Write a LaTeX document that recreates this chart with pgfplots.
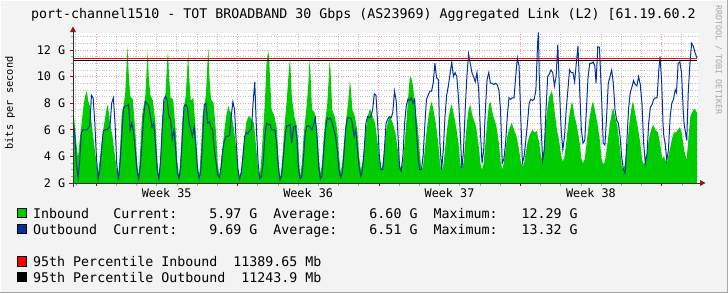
\documentclass[border=0pt]{standalone}
\usepackage{pgfplots}
\pgfplotsset{compat=1.18}
\usepackage{pgfplotstable}
\usepackage{fontspec}
\setmainfont{DejaVu Sans Mono}
\newfontfamily\mono{DejaVu Sans Mono}
\definecolor{bg}{HTML}{F3F3F3}
\definecolor{ingreen}{HTML}{00CC00}
\definecolor{outblue}{HTML}{0033A0}
\definecolor{arrowred}{HTML}{8B1A1A}
\definecolor{gridred}{HTML}{EFA0A0}
\definecolor{gridgray}{HTML}{C4C4C4}

% Inbound: d = day index, h = hour within day, v = Gbit/s
\pgfplotstableread[row sep=\\]{
d h v \\
-1 18 8.0 \\ -1 20 6.5 \\ -1 22 5.0 \\
0 0 3.9 \\ 0 2 5.2 \\ 0 4 6.3 \\ 0 6 7.5 \\ 0 8 8.4 \\ 0 10 8.9 \\ 0 11 8.7 \\ 0 12 8.2 \\ 0 14 7.8 \\ 0 17 6.0 \\ 0 20 4.5 \\ 0 22 3.4 \\
1 0 2.8 \\ 1 2 3.8 \\ 1 4 5.0 \\ 1 6 6.0 \\ 1 8 6.8 \\ 1 10 7.6 \\ 1 11 7.9 \\ 1 12 7.6 \\ 1 14 6.5 \\ 1 17 5.5 \\ 1 20 4.0 \\ 1 22 3.0 \\
2 0 2.5 \\ 2 2 4.6 \\ 2 4 7.2 \\ 2 6 7.8 \\ 2 8 8.6 \\ 2 10 11.2 \\ 2 11 12.25 \\ 2 12 10.5 \\ 2 14 8.5 \\ 2 17 8.3 \\ 2 20 6.0 \\ 2 22 3.8 \\
3 0 2.5 \\ 3 2 4.5 \\ 3 4 7.0 \\ 3 6 7.8 \\ 3 8 8.5 \\ 3 10 11.0 \\ 3 11 11.95 \\ 3 12 10.0 \\ 3 14 8.6 \\ 3 17 8.2 \\ 3 20 6.5 \\ 3 22 4.0 \\
4 0 2.5 \\ 4 2 4.0 \\ 4 4 6.8 \\ 4 6 7.9 \\ 4 8 8.8 \\ 4 10 11.2 \\ 4 11 11.9 \\ 4 12 10.2 \\ 4 14 8.4 \\ 4 17 8.3 \\ 4 20 6.0 \\ 4 22 3.6 \\
5 0 2.5 \\ 5 2 4.2 \\ 5 4 6.8 \\ 5 6 7.8 \\ 5 8 8.5 \\ 5 10 10.8 \\ 5 11 11.8 \\ 5 12 10.0 \\ 5 14 8.2 \\ 5 17 8.4 \\ 5 20 5.8 \\ 5 22 3.5 \\
6 0 2.5 \\ 6 2 4.4 \\ 6 4 7.0 \\ 6 6 7.8 \\ 6 8 8.6 \\ 6 10 11.3 \\ 6 11 12.1 \\ 6 12 10.0 \\ 6 14 8.3 \\ 6 17 8.0 \\ 6 20 5.8 \\ 6 22 3.5 \\
7 0 2.5 \\ 7 2 3.5 \\ 7 4 4.8 \\ 7 6 6.0 \\ 7 8 7.0 \\ 7 10 7.6 \\ 7 11 7.8 \\ 7 12 7.5 \\ 7 14 7.2 \\ 7 17 6.2 \\ 7 20 4.5 \\ 7 22 3.2 \\
8 0 2.4 \\ 8 2 3.0 \\ 8 4 4.5 \\ 8 6 5.5 \\ 8 8 6.6 \\ 8 10 6.9 \\ 8 11 7.0 \\ 8 12 7.0 \\ 8 14 6.8 \\ 8 17 6.5 \\ 8 20 4.5 \\ 8 22 3.0 \\
9 0 2.5 \\ 9 2 4.0 \\ 9 4 6.0 \\ 9 6 8.0 \\ 9 8 11.0 \\ 9 10 11.9 \\ 9 11 11.5 \\ 9 12 10.0 \\ 9 14 7.5 \\ 9 17 7.1 \\ 9 20 6.2 \\ 9 22 4.0 \\
10 0 2.4 \\ 10 2 3.2 \\ 10 4 5.0 \\ 10 6 6.8 \\ 10 8 8.2 \\ 10 10 10.0 \\ 10 11 10.8 \\ 10 12 11.3 \\ 10 14 8.5 \\ 10 17 7.0 \\ 10 20 6.3 \\ 10 22 4.5 \\
11 0 2.5 \\ 11 2 3.5 \\ 11 4 5.5 \\ 11 6 6.8 \\ 11 8 8.0 \\ 11 10 9.8 \\ 11 11 11.2 \\ 11 12 10.5 \\ 11 14 7.5 \\ 11 17 7.3 \\ 11 20 6.0 \\ 11 22 4.0 \\
12 0 2.7 \\ 12 2 3.5 \\ 12 4 5.5 \\ 12 6 6.8 \\ 12 8 7.8 \\ 12 10 10.0 \\ 12 11 11.3 \\ 12 12 10.5 \\ 12 14 7.5 \\ 12 17 7.0 \\ 12 20 6.0 \\ 12 22 4.2 \\
13 0 2.8 \\ 13 2 3.5 \\ 13 4 5.0 \\ 13 6 6.5 \\ 13 8 7.5 \\ 13 10 8.8 \\ 13 11 9.7 \\ 13 12 9.2 \\ 13 14 7.5 \\ 13 17 7.0 \\ 13 20 5.8 \\ 13 22 4.0 \\
14 0 3.0 \\ 14 2 3.5 \\ 14 4 4.8 \\ 14 6 6.0 \\ 14 8 7.0 \\ 14 10 7.4 \\ 14 11 7.6 \\ 14 12 7.4 \\ 14 14 7.0 \\ 14 17 6.5 \\ 14 20 5.0 \\ 14 22 3.8 \\
15 0 3.0 \\ 15 2 3.4 \\ 15 4 4.5 \\ 15 6 5.8 \\ 15 8 6.6 \\ 15 10 6.9 \\ 15 11 7.0 \\ 15 12 6.8 \\ 15 14 6.5 \\ 15 17 5.8 \\ 15 20 4.5 \\ 15 22 3.5 \\
16 0 3.0 \\ 16 2 3.5 \\ 16 4 5.0 \\ 16 6 6.5 \\ 16 8 8.2 \\ 16 10 9.8 \\ 16 11 10.0 \\ 16 12 9.9 \\ 16 14 9.3 \\ 16 17 7.5 \\ 16 20 6.0 \\ 16 22 4.3 \\
17 0 2.9 \\ 17 2 3.3 \\ 17 4 4.5 \\ 17 6 5.8 \\ 17 8 6.8 \\ 17 10 7.6 \\ 17 11 7.9 \\ 17 12 8.1 \\ 17 14 7.6 \\ 17 17 6.5 \\ 17 20 5.0 \\ 17 22 3.5 \\
18 0 2.9 \\ 18 2 3.3 \\ 18 4 4.5 \\ 18 6 5.8 \\ 18 8 6.8 \\ 18 10 7.5 \\ 18 11 7.8 \\ 18 12 7.9 \\ 18 14 7.3 \\ 18 17 6.3 \\ 18 20 5.0 \\ 18 22 3.5 \\
19 0 2.9 \\ 19 2 3.5 \\ 19 4 5.0 \\ 19 6 6.5 \\ 19 8 7.5 \\ 19 10 7.9 \\ 19 11 7.6 \\ 19 12 7.2 \\ 19 14 6.8 \\ 19 17 6.2 \\ 19 20 4.8 \\ 19 22 3.5 \\
20 0 3.0 \\ 20 2 3.5 \\ 20 4 5.0 \\ 20 6 6.5 \\ 20 8 7.8 \\ 20 10 8.1 \\ 20 11 7.8 \\ 20 12 7.4 \\ 20 14 6.9 \\ 20 17 6.3 \\ 20 20 5.0 \\ 20 22 3.6 \\
21 0 3.0 \\ 21 2 3.5 \\ 21 4 4.5 \\ 21 6 5.5 \\ 21 8 6.0 \\ 21 10 6.3 \\ 21 11 6.5 \\ 21 12 6.4 \\ 21 14 6.0 \\ 21 17 5.5 \\ 21 20 4.5 \\ 21 22 3.6 \\
22 0 3.2 \\ 22 2 3.5 \\ 22 4 4.3 \\ 22 6 5.0 \\ 22 8 5.5 \\ 22 10 5.8 \\ 22 11 5.9 \\ 22 12 6.0 \\ 22 14 5.8 \\ 22 17 5.9 \\ 22 20 5.0 \\ 22 22 4.0 \\
23 0 3.7 \\ 23 2 5.0 \\ 23 4 6.5 \\ 23 6 7.8 \\ 23 8 8.5 \\ 23 10 8.8 \\ 23 11 8.9 \\ 23 12 8.6 \\ 23 14 7.5 \\ 23 17 6.0 \\ 23 20 5.0 \\ 23 22 4.0 \\
24 0 3.6 \\ 24 2 4.0 \\ 24 4 5.0 \\ 24 6 6.2 \\ 24 8 7.2 \\ 24 10 7.9 \\ 24 11 8.1 \\ 24 12 7.8 \\ 24 14 7.0 \\ 24 17 6.2 \\ 24 20 5.0 \\ 24 22 3.8 \\
25 0 3.5 \\ 25 2 3.8 \\ 25 4 4.8 \\ 25 6 6.0 \\ 25 8 7.0 \\ 25 10 7.7 \\ 25 11 8.0 \\ 25 12 8.1 \\ 25 14 7.5 \\ 25 17 6.5 \\ 25 20 5.2 \\ 25 22 3.8 \\
26 0 3.4 \\ 26 2 3.6 \\ 26 4 4.5 \\ 26 6 5.5 \\ 26 8 6.5 \\ 26 10 7.2 \\ 26 11 7.5 \\ 26 12 7.6 \\ 26 14 7.0 \\ 26 17 6.2 \\ 26 20 4.5 \\ 26 22 3.3 \\
27 0 3.0 \\ 27 2 3.5 \\ 27 4 4.6 \\ 27 6 5.8 \\ 27 8 7.0 \\ 27 10 7.8 \\ 27 11 8.1 \\ 27 12 7.9 \\ 27 14 7.2 \\ 27 17 6.2 \\ 27 20 5.0 \\ 27 22 3.8 \\
28 0 3.4 \\ 28 2 3.6 \\ 28 4 4.3 \\ 28 6 5.2 \\ 28 8 5.8 \\ 28 10 6.2 \\ 28 11 6.35 \\ 28 12 6.3 \\ 28 14 6.0 \\ 28 17 5.8 \\ 28 20 4.8 \\ 28 22 3.8 \\
29 0 4.0 \\ 29 2 3.7 \\ 29 4 3.6 \\ 29 6 4.2 \\ 29 8 4.8 \\ 29 10 5.4 \\ 29 12 5.8 \\ 29 14 5.8 \\ 29 17 6.0 \\ 29 19 6.2 \\ 29 21 5.8 \\ 29 23 5.0 \\
30 0 4.5 \\ 30 3 3.7 \\ 30 5 5.2 \\ 30 7.5 7.0 \\ 30 9.5 7.3 \\ 30 12 7.6 \\ 30 15.4 7.3 \\
}\inb

% Outbound
\pgfplotstableread[row sep=\\]{
d h v \\
-1 18 6.6 \\ -1 20 5.8 \\ -1 22 3.5 \\
0 0 2.4 \\ 0 2 3.6 \\ 0 4 5.8 \\ 0 6 6.0 \\ 0 8 6.0 \\ 0 10 6.0 \\ 0 12 6.1 \\ 0 14 6.3 \\ 0 16 8.6 \\ 0 18 8.4 \\ 0 20 6.5 \\ 0 22 3.8 \\
1 0 2.3 \\ 1 2 3.0 \\ 1 4 4.5 \\ 1 6 5.9 \\ 1 8 6.0 \\ 1 10 6.0 \\ 1 12 6.1 \\ 1 14 6.3 \\ 1 16 8.0 \\ 1 18 8.4 \\ 1 20 6.5 \\ 1 22 3.5 \\
2 0 2.2 \\ 2 2 3.5 \\ 2 4 5.5 \\ 2 6 7.6 \\ 2 8 7.8 \\ 2 10 7.8 \\ 2 12 7.9 \\ 2 14 6.0 \\ 2 16 6.5 \\ 2 18 5.8 \\ 2 20 4.5 \\ 2 22 3.0 \\
3 0 2.3 \\ 3 2 3.2 \\ 3 4 5.0 \\ 3 6 7.0 \\ 3 8 8.1 \\ 3 10 8.0 \\ 3 12 7.8 \\ 3 14 7.0 \\ 3 16 6.2 \\ 3 18 6.5 \\ 3 20 5.0 \\ 3 22 3.0 \\
4 0 2.3 \\ 4 2 3.5 \\ 4 4 6.0 \\ 4 6 8.3 \\ 4 8 8.5 \\ 4 10 8.2 \\ 4 12 7.0 \\ 4 14 6.8 \\ 4 16 5.3 \\ 4 18 6.0 \\ 4 20 4.5 \\ 4 22 2.8 \\
5 0 2.3 \\ 5 2 3.2 \\ 5 4 5.5 \\ 5 6 7.8 \\ 5 8 7.9 \\ 5 10 7.7 \\ 5 12 6.5 \\ 5 14 6.0 \\ 5 16 5.5 \\ 5 18 6.2 \\ 5 20 4.8 \\ 5 22 3.0 \\
6 0 2.3 \\ 6 2 3.0 \\ 6 4 5.2 \\ 6 6 7.9 \\ 6 8 8.0 \\ 6 10 6.5 \\ 6 12 6.6 \\ 6 14 6.2 \\ 6 16 6.0 \\ 6 18 4.5 \\ 6 20 3.5 \\ 6 22 2.6 \\
7 0 2.4 \\ 7 2 3.2 \\ 7 4 4.5 \\ 7 6 5.2 \\ 7 8 5.5 \\ 7 10 5.5 \\ 7 12 5.6 \\ 7 14 7.0 \\ 7 16 8.1 \\ 7 18 7.5 \\ 7 20 5.0 \\ 7 22 3.0 \\
8 0 2.3 \\ 8 2 2.8 \\ 8 4 4.0 \\ 8 6 5.5 \\ 8 8 5.8 \\ 8 10 5.7 \\ 8 12 6.0 \\ 8 14 6.0 \\ 8 16 8.0 \\ 8 18 9.6 \\ 8 20 6.0 \\ 8 22 3.5 \\
9 0 2.3 \\ 9 2 2.5 \\ 9 4 3.5 \\ 9 6 5.5 \\ 9 8 6.5 \\ 9 10 6.4 \\ 9 12 6.4 \\ 9 14 6.0 \\ 9 16 6.0 \\ 9 18 6.0 \\ 9 20 5.0 \\ 9 22 3.2 \\
10 0 2.2 \\ 10 2 2.6 \\ 10 4 4.0 \\ 10 6 5.5 \\ 10 8 6.3 \\ 10 10 6.3 \\ 10 12 6.4 \\ 10 14 5.0 \\ 10 16 6.2 \\ 10 18 6.3 \\ 10 20 5.5 \\ 10 22 3.0 \\
11 0 2.3 \\ 11 2 2.5 \\ 11 4 4.0 \\ 11 6 5.8 \\ 11 8 6.3 \\ 11 10 6.3 \\ 11 12 6.2 \\ 11 14 6.0 \\ 11 16 6.4 \\ 11 18 6.9 \\ 11 20 5.5 \\ 11 22 3.2 \\
12 0 2.3 \\ 12 2 2.6 \\ 12 4 4.5 \\ 12 6 6.0 \\ 12 8 6.9 \\ 12 10 6.8 \\ 12 12 6.9 \\ 12 14 6.5 \\ 12 16 6.0 \\ 12 18 5.5 \\ 12 20 4.5 \\ 12 22 3.0 \\
13 0 2.4 \\ 13 2 2.8 \\ 13 4 4.2 \\ 13 6 6.0 \\ 13 8 6.9 \\ 13 10 6.9 \\ 13 12 6.9 \\ 13 14 6.5 \\ 13 16 5.5 \\ 13 18 6.0 \\ 13 20 4.5 \\ 13 22 3.2 \\
14 0 2.5 \\ 14 2 3.0 \\ 14 4 4.5 \\ 14 6 6.5 \\ 14 8 7.0 \\ 14 10 6.9 \\ 14 12 7.0 \\ 14 14 7.5 \\ 14 16 8.7 \\ 14 18 8.6 \\ 14 20 6.5 \\ 14 22 4.0 \\
15 0 3.0 \\ 15 2 3.0 \\ 15 4 4.5 \\ 15 6 6.5 \\ 15 8 6.8 \\ 15 10 7.0 \\ 15 12 6.9 \\ 15 14 7.3 \\ 15 16 8.9 \\ 15 18 8.2 \\ 15 20 5.8 \\ 15 22 3.2 \\
16 0 2.9 \\ 16 2 4.0 \\ 16 4 6.5 \\ 16 6 7.8 \\ 16 8 8.3 \\ 16 10 8.2 \\ 16 12 8.4 \\ 16 14 8.0 \\ 16 16 8.3 \\ 16 18 6.0 \\ 16 20 4.0 \\ 16 22 3.0 \\
17 0 3.0 \\ 17 2 4.0 \\ 17 4 6.3 \\ 17 6 8.3 \\ 17 8 8.6 \\ 17 10 8.9 \\ 17 12 8.9 \\ 17 14 9.5 \\ 17 16 11.0 \\ 17 18 9.9 \\ 17 20 9.8 \\ 17 22 5.0 \\
18 0 3.0 \\ 18 2 4.5 \\ 18 4 7.0 \\ 18 6 8.6 \\ 18 8 9.3 \\ 18 10 10.2 \\ 18 12 11.1 \\ 18 14 10.0 \\ 18 16 10.3 \\ 18 18 10.0 \\ 18 20 8.4 \\ 18 22 6.0 \\
19 0 3.0 \\ 19 2 4.5 \\ 19 4 7.5 \\ 19 6 10.0 \\ 19 8 11.7 \\ 19 10 11.0 \\ 19 12 10.3 \\ 19 14 10.0 \\ 19 16 9.6 \\ 19 18 10.3 \\ 19 20 9.0 \\ 19 22 6.0 \\
20 0 3.5 \\ 20 2 4.5 \\ 20 4 7.5 \\ 20 6 9.8 \\ 20 8 10.3 \\ 20 10 9.5 \\ 20 12 9.5 \\ 20 14 9.4 \\ 20 16 9.5 \\ 20 18 9.4 \\ 20 20 9.0 \\ 20 22 7.5 \\
21 0 3.5 \\ 21 2 3.8 \\ 21 4 5.0 \\ 21 6 7.0 \\ 21 8 8.4 \\ 21 10 8.3 \\ 21 12 8.4 \\ 21 14 8.4 \\ 21 16 10.0 \\ 21 18 11.4 \\ 21 20 10.8 \\ 21 22 7.0 \\
22 0 3.5 \\ 22 2 4.0 \\ 22 4 5.2 \\ 22 6 6.5 \\ 22 8 8.0 \\ 22 10 8.3 \\ 22 12 8.2 \\ 22 14 8.3 \\ 22 16 9.0 \\ 22 18 12.5 \\ 22 19 13.32 \\ 22 20 10.0 \\ 22 22 6.5 \\
23 0 3.7 \\ 23 2 4.5 \\ 23 4 7.5 \\ 23 6 10.0 \\ 23 8 10.2 \\ 23 10 10.5 \\ 23 12 10.3 \\ 23 14 9.3 \\ 23 16 10.0 \\ 23 18 12.4 \\ 23 20 9.0 \\ 23 22 6.0 \\
24 0 4.5 \\ 24 2 5.5 \\ 24 4 7.5 \\ 24 6 9.0 \\ 24 8 10.5 \\ 24 10 10.3 \\ 24 12 10.3 \\ 24 14 9.6 \\ 24 16 11.0 \\ 24 18 12.3 \\ 24 20 9.0 \\ 24 22 6.0 \\
25 0 5.0 \\ 25 2 5.2 \\ 25 4 7.5 \\ 25 6 10.0 \\ 25 8 11.0 \\ 25 10 11.0 \\ 25 12 11.1 \\ 25 14 10.8 \\ 25 15.5 9.5 \\ 25 17.5 12.25 \\ 25 19.5 12.2 \\ 25 22 8.5 \\
26 0 5.0 \\ 26 2 4.85 \\ 26 4 7.0 \\ 26 6 9.5 \\ 26 8 10.0 \\ 26 10 10.5 \\ 26 12 9.5 \\ 26 14 7.5 \\ 26 16 6.7 \\ 26 18 6.5 \\ 26 20 5.5 \\ 26 22 3.9 \\
27 0 3.0 \\ 27 2 2.75 \\ 27 4 5.0 \\ 27 6 7.5 \\ 27 8 8.75 \\ 27 10 9.2 \\ 27 12 9.7 \\ 27 14 9.4 \\ 27 16 9.3 \\ 27 18 10.0 \\ 27 20 9.4 \\ 27 22 8.0 \\
28 0 5.0 \\ 28 2 3.5 \\ 28 4 4.2 \\ 28 6 6.5 \\ 28 8 7.7 \\ 28 10 7.9 \\ 28 12 8.3 \\ 28 14 8.4 \\ 28 16 8.4 \\ 28 18 10.5 \\ 28 19.5 11.5 \\ 28 21.5 9.5 \\ 28 23 6.5 \\
29 0 5.5 \\ 29 1.5 5.0 \\ 29 3.5 3.7 \\ 29 5.5 4.5 \\ 29 7.5 7.0 \\ 29 9.5 8.0 \\ 29 11.5 8.3 \\ 29 13.5 9.0 \\ 29 15 8.8 \\ 29 17 11.0 \\ 29 19 11.1 \\ 29 21 10.3 \\ 29 23 7.5 \\
30 0 6.5 \\ 30 1.2 6.0 \\ 30 3.2 5.2 \\ 30 5 8.8 \\ 30 7 11.0 \\ 30 9 12.5 \\ 30 11 12.3 \\ 30 13 11.8 \\ 30 15.4 11.4 \\
}\outb

\begin{document}
\begin{tikzpicture}[x=1bp,y=1bp,font=\mono\frenchspacing]
\path[use as bounding box, fill=bg] (0,0) rectangle (728,293);
% frame
\draw[white, line width=1bp] (0.5,0) -- (0.5,292.5) -- (728,292.5);
\draw[black!35, line width=1.5bp] (0,0.75) -- (727.25,0.75) -- (727.25,293);

\begin{axis}[
  at={(73bp,110bp)}, anchor=south west,
  scale only axis, width=625bp, height=150.3bp,
  xmin=-5.94, xmax=736.6, ymin=2, ymax=13.3,
  axis line style={draw=none},
  axis background/.style={fill=white},
  tick pos=left, tick align=outside,
  xtick={21.39,189.39,357.39,525.39,693.39}, xticklabels={},
  extra x ticks={105.39,273.39,441.39,609.39},
  extra x tick labels={Week~35,Week~36,Week~37,Week~38},
  extra x tick style={xmajorgrids=false, major tick length=0pt},
  minor xtick={-2.61,21.39,...,717.39},
  xmajorgrids, xminorgrids,
  ytick={2,4,...,12}, yticklabels={2~G,4~G,6~G,8~G,10~G,12~G},
  minor ytick={2.5,3,...,13},
  ymajorgrids, yminorgrids,
  major grid style={gridred, dotted, line width=0.7bp},
  minor grid style={gridgray, dotted, line width=0.7bp},
  major tick length=3bp, minor tick length=2.5bp,
  major tick style={red!70!black, line width=0.6bp},
  minor tick style={gray!70, line width=0.6bp},
  ticklabel style={font=\mono\fontsize{11.8bp}{14bp}\selectfont, text=black},
  yticklabel style={inner sep=0pt, xshift=-4.5bp},
  xticklabel style={inner sep=0pt, yshift=-5bp},
]
\addplot[fill=ingreen, draw=none] table[x expr=24*\thisrow{d}+\thisrow{h}, y=v] {\inb} \closedcycle;
\addplot[outblue, line width=1bp] table[x expr=24*\thisrow{d}+\thisrow{h}, y=v] {\outb};
\addplot[black, line width=1bp] coordinates {(-5.94,11.2439) (735.4,11.2439)};
\addplot[red, line width=1.2bp] coordinates {(-5.94,11.3897) (735.4,11.3897)};
\end{axis}

% axis lines with arrows
\draw[black!80, line width=1bp] (73,106) -- (73,261);
\fill[arrowred] (70,261) -- (76,261) -- (73,266.5) -- cycle;
\draw[black!80, line width=1bp] (69,110) -- (700,110);
\fill[arrowred] (700,107) -- (700,113) -- (705.5,110) -- cycle;

% title
\node[anchor=base west, inner sep=0pt, font=\mono\fontsize{13.3bp}{16bp}\selectfont]
  at (31,274.7) {port-channel1510~-~TOT~BROADBAND~30~Gbps~(AS23969)~Aggregated~Link~(L2)~[61.19.60.2};
% y label
\node[rotate=90, inner sep=0pt, font=\mono\fontsize{10.3bp}{12bp}\selectfont] at (10,190) {bits~per~second};
% watermark
\node[rotate=-90, inner sep=0pt, text=black!35, font=\mono\fontsize{8.3bp}{10bp}\selectfont] at (718.5,233) {RRDTOOL~/~TOBI~OETIKER};

% legend
\filldraw[fill=ingreen, draw=black, line width=0.6bp] (17.3,75.3) rectangle (26.7,84.7);
\filldraw[fill=outblue, draw=black, line width=0.6bp] (17.3,59.7) rectangle (26.7,69.0);
\filldraw[fill=red, draw=black, line width=0.6bp] (17.3,27.0) rectangle (26.7,36.3);
\filldraw[fill=black, draw=black, line width=0.6bp] (17.3,11.3) rectangle (26.7,20.7);
\begin{scope}[every node/.style={anchor=base west, inner sep=0pt, font=\mono\fontsize{13.3bp}{16bp}\selectfont\frenchspacing}]
\node at (33,74.7) {Inbound~~~Current:~~~~5.97~G~~Average:~~~~6.60~G~~Maximum:~~~12.29~G};
\node at (33,58.7) {Outbound~~Current:~~~~9.69~G~~Average:~~~~6.51~G~~Maximum:~~~13.32~G};
\node at (33,26.3) {95th~Percentile~Inbound~~11389.65~Mb};
\node at (33,10.7) {95th~Percentile~Outbound~~11243.9~Mb};
\end{scope}
\end{tikzpicture}
\end{document}
